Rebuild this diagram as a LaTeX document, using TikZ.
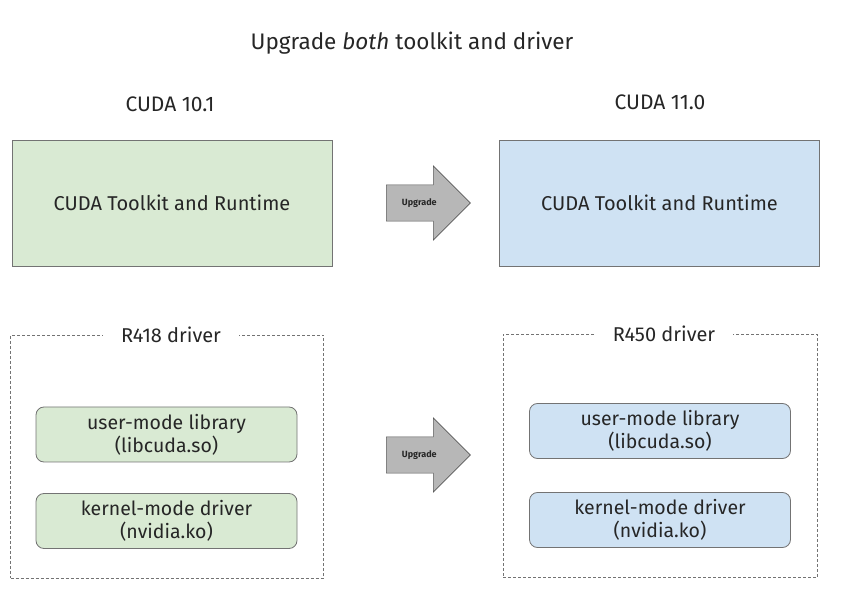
\documentclass[tikz,border=0pt]{standalone}
\usepackage{fontspec}
\setmainfont{Fira Sans}
\usetikzlibrary{shapes.arrows}
\definecolor{tkgreen}{HTML}{D9EAD3}
\definecolor{tkblue}{HTML}{CFE2F3}
\definecolor{upgray}{HTML}{B7B7B7}

\begin{document}
\begin{tikzpicture}[x=1pt,y=-1pt,
        every node/.style={text=black!85},
        bigtxt/.style={font=\fontsize{20}{23}\selectfont},
        tkbox/.style={bigtxt, draw=black!55, line width=0.8pt, minimum width=320pt, minimum height=126pt},
        drvbox/.style={draw=black!55, line width=0.7pt, dash pattern=on 3pt off 2pt, minimum width=313pt, minimum height=243pt},
        libbox/.style={font=\fontsize{19.5}{23}\selectfont, draw=black!55, line width=0.8pt, rounded corners=8pt, minimum width=261pt, minimum height=55pt, align=center, inner sep=2pt},
        upgrade/.style={single arrow, draw=black!65, fill=upgray, line width=0.7pt, single arrow head extend=18.5pt, minimum height=84pt, minimum width=74pt, inner ysep=13pt, inner xsep=3pt, font=\bfseries\fontsize{9}{10}\selectfont}]
        \useasboundingbox (0,0) rectangle (844,593);
        \node[font=\fontsize{22.5}{26}\selectfont] (title) at (412,43) {Upgrade \textit{both} toolkit and driver};
        \node[font=\fontsize{21}{24}\selectfont] (cuda101) at (170,104) {CUDA 10.1};
        \node[font=\fontsize{21}{24}\selectfont] (cuda110) at (660,102) {CUDA 11.0};
        \node[tkbox, fill=tkgreen] (tk101) at (172,203) {CUDA Toolkit and Runtime};
        \node[tkbox, fill=tkblue] (tk110) at (659.5,203) {CUDA Toolkit and Runtime};
        \node[upgrade, anchor=tail] (up1) at (386,203) {Upgrade};

        \node[drvbox] (drv418) at (167,456.5) {};
        \node[drvbox, minimum width=314pt] (drv450) at (660,456) {};
        \node[bigtxt, fill=white, inner xsep=18pt] (lbl418) at (171,335) {R418 driver};
        \node[bigtxt, fill=white, inner xsep=18pt] (lbl450) at (664,334) {R450 driver};
        \node[libbox, fill=tkgreen] (user418) at (166.5,434.5) {user-mode library\\(libcuda.so)};
        \node[libbox, fill=tkgreen] (kern418) at (166.5,521) {kernel-mode driver\\(nvidia.ko)};
        \node[libbox, fill=tkblue] (user450) at (660,431) {user-mode library\\(libcuda.so)};
        \node[libbox, fill=tkblue] (kern450) at (660,520) {kernel-mode driver\\(nvidia.ko)};
        \node[upgrade, anchor=tail] (up2) at (386,455) {Upgrade};
    \end{tikzpicture}
\end{document}
